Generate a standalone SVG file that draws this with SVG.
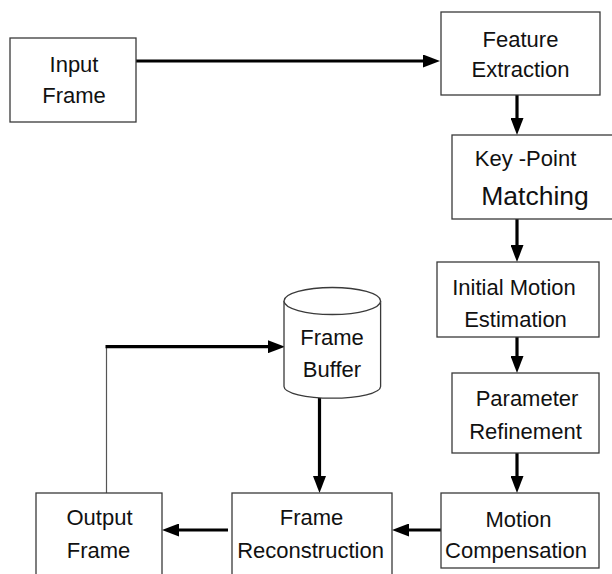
<svg xmlns="http://www.w3.org/2000/svg" width="612" height="574" viewBox="0 0 612 574">
  <style>
    .box { fill: #fff; stroke: #3a3a3a; stroke-width: 1.3; }
    .lbl { font-family: "Liberation Sans", Arial, sans-serif; font-size: 22px; fill: #111; text-anchor: middle; }
    .big { font-size: 26.5px; }
    .flow { fill: none; stroke: #000; stroke-width: 3.2; marker-end: url(#head); }
    .thin { fill: none; stroke: #555; stroke-width: 1.2; }
  </style>
  <defs>
    <marker id="head" viewBox="0 0 17 13" refX="9" refY="6.5" markerWidth="17" markerHeight="13" markerUnits="userSpaceOnUse" orient="auto">
      <path d="M0,0 L17,6.5 L0,13 Z" fill="#000"/>
    </marker>
  </defs>
  <rect width="612" height="574" fill="#fff"/>

  <g id="connectors">
    <path class="flow" d="M136,61 H432"/>
    <path class="flow" d="M517,95 V127"/>
    <path class="flow" d="M517,219 V254"/>
    <path class="flow" d="M517,337 V365"/>
    <path class="flow" d="M517,453 V485"/>
    <path class="flow" d="M441,530 H400"/>
    <path class="flow" d="M228,530 H170"/>
    <path class="flow" d="M319.5,398 V485"/>
    <path class="thin" d="M106.5,493 V346.7"/>
    <path class="flow" d="M105.5,346.7 H277"/>
  </g>

  <g id="input-frame">
    <rect class="box" x="10" y="38" width="126" height="84"/>
    <text class="lbl" x="74" y="72">Input</text>
    <text class="lbl" x="74" y="103">Frame</text>
  </g>

  <g id="feature-extraction">
    <rect class="box" x="441" y="12" width="159" height="83"/>
    <text class="lbl" x="520.5" y="46.5">Feature</text>
    <text class="lbl" x="520.5" y="77">Extraction</text>
  </g>

  <g id="keypoint-matching">
    <rect class="box" x="452" y="135" width="164" height="84"/>
    <text class="lbl" x="525.5" y="166">Key -Point</text>
    <text class="lbl big" x="535" y="205">Matching</text>
  </g>

  <g id="initial-motion-estimation">
    <rect class="box" x="437" y="262" width="162" height="75"/>
    <text class="lbl" x="514" y="295">Initial Motion</text>
    <text class="lbl" x="515.5" y="327">Estimation</text>
  </g>

  <g id="parameter-refinement">
    <rect class="box" x="452" y="373" width="147" height="80"/>
    <text class="lbl" x="527" y="406">Parameter</text>
    <text class="lbl" x="525.5" y="438.5">Refinement</text>
  </g>

  <g id="motion-compensation">
    <rect class="box" x="441" y="493" width="158" height="75"/>
    <text class="lbl" x="518.5" y="526.5">Motion</text>
    <text class="lbl" x="516" y="558.3">Compensation</text>
  </g>

  <g id="frame-reconstruction">
    <rect class="box" x="232" y="493" width="160" height="90"/>
    <text class="lbl" x="311.5" y="525">Frame</text>
    <text class="lbl" x="310.5" y="558.3">Reconstruction</text>
  </g>

  <g id="output-frame">
    <rect class="box" x="36" y="493" width="126" height="90"/>
    <text class="lbl" x="99.5" y="525">Output</text>
    <text class="lbl" x="98.5" y="558.3">Frame</text>
  </g>

  <g id="frame-buffer">
    <path class="box" d="M284,301 V386.5 A48.3,11.7 0 0 0 380.6,386.5 V301"/>
    <ellipse class="box" cx="332.3" cy="301" rx="48.3" ry="13.5"/>
    <text class="lbl" x="332" y="345">Frame</text>
    <text class="lbl" x="332" y="376.5">Buffer</text>
  </g>
</svg>
